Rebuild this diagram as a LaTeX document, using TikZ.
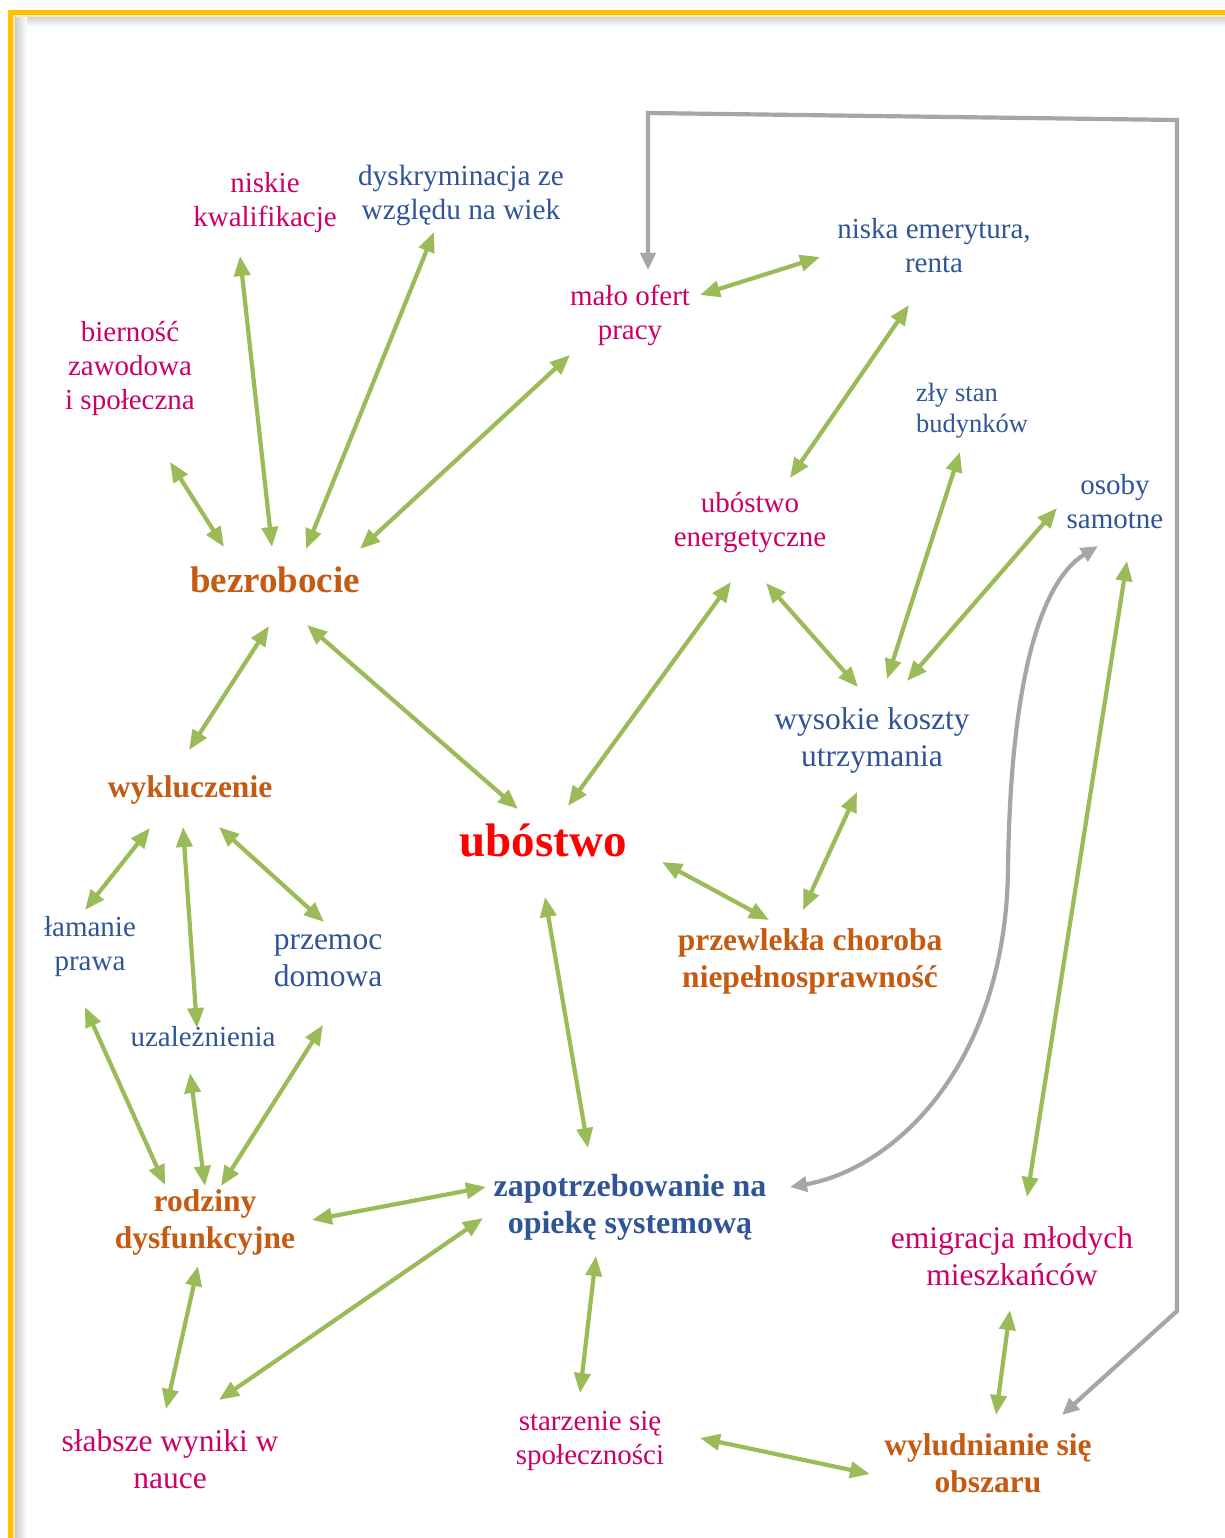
\documentclass[tikz,border=0pt]{standalone}
\usepackage{fontspec}
\setmainfont{Liberation Serif}
\usetikzlibrary{arrows.meta}
\definecolor{cpink}{HTML}{CC0066}
\definecolor{cblue}{HTML}{2F5597}
\definecolor{corange}{HTML}{C55A11}
\definecolor{cred}{HTML}{FF0000}
\definecolor{cgreen}{HTML}{9BBB59}
\definecolor{cgray}{HTML}{A6A6A6}
\definecolor{cyellow}{HTML}{FFC000}
\definecolor{cpale}{HTML}{FFE9A8}
\tikzset{
  lbl/.style={inner sep=0pt, align=center},
  pk/.style={lbl, text=cpink, font=\fontsize{29}{34}\selectfont},
  bl/.style={lbl, text=cblue, font=\fontsize{29}{34}\selectfont},
  blbig/.style={lbl, text=cblue, font=\fontsize{31.5}{37}\selectfont},
  pkbig/.style={lbl, text=cpink, font=\fontsize{31.5}{37}\selectfont},
  orb/.style={lbl, text=corange, font=\bfseries\fontsize{31.5}{37}\selectfont},
  ga/.style={draw=cgreen, line width=4.2pt, {Triangle[length=20pt,width=16pt]}-{Triangle[length=20pt,width=16pt]}},
  gr/.style={draw=cgray, line width=4.2pt, {Triangle[length=17pt,width=15pt]}-{Triangle[length=17pt,width=15pt]}},
}
\begin{document}
\begin{tikzpicture}[x=1pt,y=-1pt]
\useasboundingbox (0,0) rectangle (1225,1538);
\clip (0,0) rectangle (1225,1538);
\fill[white] (0,0) rectangle (1225,1538);
% frame
\shade[top color=gray!40, bottom color=white] (15,15) rectangle (1240,27);
\shade[left color=gray!40, right color=white] (15,15) rectangle (27,1545);
\draw[cyellow, line width=5pt] (10.5,1560) -- (10.5,12.5) -- (1240,12.5);
\draw[cpale, line width=1.8pt] (14,1560) -- (14,16) -- (1240,16);

% nodes
\node[pk] (kw) at (265,203) {niskie\\kwalifikacje};
\node[bl, font=\fontsize{29.3}{34}\selectfont] (dys) at (461,195) {dyskryminacja ze\\względu na wiek};
\node[pk] (bier) at (130,369) {bierność\\zawodowa\\i społeczna};
\node[pk] (malo) at (630,315) {mało ofert\\pracy};
\node[bl] (emer) at (934,246) {niska emerytura,\\renta};
\node[bl, align=left, font=\fontsize{26.5}{31}\selectfont] (zly) at (972,411) {zły stan\\budynków};
\node[bl] (osoby) at (1115,502) {osoby\\samotne};
\node[pk] (ue) at (750,523) {ubóstwo\\energetyczne};
\node[orb, font=\bfseries\fontsize{37}{43}\selectfont] (bez) at (275,580) {bezrobocie};
\node[blbig] (wk) at (872,740) {wysokie koszty\\utrzymania};
\node[orb] (wyk) at (190,790) {wykluczenie};
\node[lbl, text=cred, font=\bfseries\fontsize{47}{55}\selectfont] (ub) at (543,840) {ubóstwo};
\node[bl] (lam) at (90,947) {łamanie\\prawa};
\node[blbig] (prz) at (328,961) {przemoc\\domowa};
\node[orb] (chor) at (810,961) {przewlekła choroba\\niepełnosprawność};
\node[bl] (uz) at (203,1037) {uzależnienia};
\node[orb] (rodz) at (205,1222) {rodziny\\dysfunkcyjne};
\node[lbl, text=cblue, font=\bfseries\fontsize{32}{37}\selectfont] (zap) at (630,1207) {zapotrzebowanie na\\opiekę systemową};
\node[pkbig] (emig) at (1012,1256) {emigracja młodych\\mieszkańców};
\node[pkbig] (slab) at (170,1459) {słabsze wyniki w\\nauce};
\node[pk] (star) at (590,1441) {starzenie się\\społeczności};
\node[orb] (wyl) at (988,1463) {wyludnianie się\\obszaru};

% green connectors
\draw[ga] ([shift={(40,93)}]bier.center) -- ([shift={(-51,-33)}]bez.center);
\draw[ga] ([shift={(-25,53)}]kw.center) -- ([shift={(-3,-33)}]bez.center);
\draw[ga] ([shift={(-27,37)}]dys.center) -- ([shift={(31,-31)}]bez.center);
\draw[ga] ([shift={(-60,40)}]malo.center) -- ([shift={(85,-31)}]bez.center);
\draw[ga] ([shift={(70,-20)}]malo.center) -- ([shift={(-114,11)}]emer.center);
\draw[ga] ([shift={(-25,59)}]emer.center) -- ([shift={(40,-45)}]ue.center);
\draw[ga] ([shift={(-12,41)}]zly.center) -- ([shift={(15,-61)}]wk.center);
\draw[ga] ([shift={(-58,6)}]osoby.center) -- ([shift={(35,-59)}]wk.center);
\draw[ga] ([shift={(16,60)}]ue.center) -- ([shift={(-14,-53)}]wk.center);
\draw[ga] ([shift={(-19,59)}]ue.center) -- ([shift={(25,-34)}]ub.center);
\draw[ga] ([shift={(32,45)}]bez.center) -- ([shift={(-25,-31)}]ub.center);
\draw[ga] ([shift={(-6,46)}]bez.center) -- ([shift={(-1,-40)}]wyk.center);
\draw[ga] ([shift={(-15,52)}]wk.center) -- ([shift={(-7,-51)}]chor.center);
\draw[ga] ([shift={(119,22)}]ub.center) -- ([shift={(-41,-41)}]chor.center);
\draw[ga] ([shift={(-40,38)}]wyk.center) -- ([shift={(-5,-37)}]lam.center);
\draw[ga] ([shift={(-7,37)}]wyk.center) -- ([shift={(-6,-9)}]uz.center);
\draw[ga] ([shift={(29,37)}]wyk.center) -- ([shift={(-4,-39)}]prz.center);
\draw[ga] ([shift={(-5,60)}]lam.center) -- ([shift={(-40,-37)}]rodz.center);
\draw[ga] ([shift={(-13,36)}]uz.center) -- ([shift={(0,-36)}]rodz.center);
\draw[ga] ([shift={(-5,64)}]prz.center) -- ([shift={(16,-36)}]rodz.center);
\draw[ga] ([shift={(2,57)}]ub.center) -- ([shift={(-42,-59)}]zap.center);
\draw[ga] ([shift={(107,-2)}]rodz.center) -- ([shift={(-144,-20)}]zap.center);
\draw[ga] ([shift={(49,-59)}]slab.center) -- ([shift={(-147,11)}]zap.center);
\draw[ga] ([shift={(-7,44)}]rodz.center) -- ([shift={(-4,-50)}]slab.center);
\draw[ga] ([shift={(-34,49)}]zap.center) -- ([shift={(-10,-48)}]star.center);
\draw[ga] ([shift={(110,-3)}]star.center) -- ([shift={(-118,11)}]wyl.center);
\draw[ga] ([shift={(-2,54)}]emig.center) -- ([shift={(8,-48)}]wyl.center);
\draw[ga] ([shift={(12,59)}]osoby.center) -- ([shift={(15,-59)}]emig.center);

% gray connectors
\coordinate (g1) at (1177,1311);
\coordinate (g2) at (1177,120);
\coordinate (g3) at (648,113);
\draw[gr, line join=miter] ([shift={(74,-48)}]wyl.center) -- (g1) -- (g2) -- (g3) -- ([shift={(18,-45)}]malo.center);
\draw[gr] ([shift={(-17,44)}]osoby.center) .. controls (1035,585) and (1010,700) .. (1008,870) .. controls (1005,1070) and (890,1170) .. ([shift={(160,-20)}]zap.center);
\end{tikzpicture}
\end{document}
